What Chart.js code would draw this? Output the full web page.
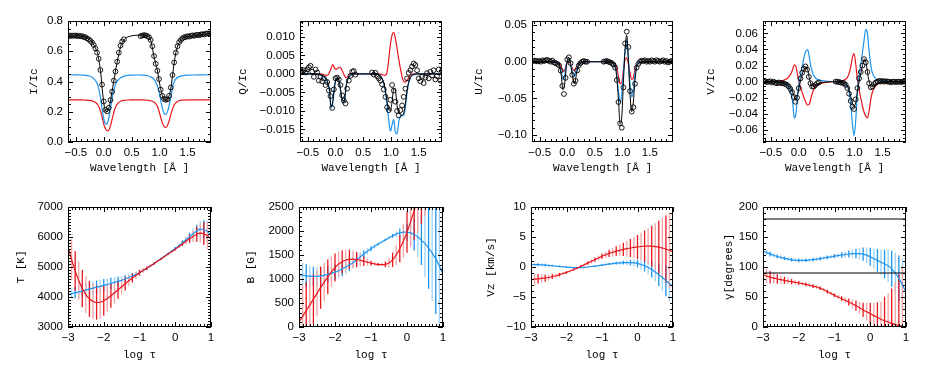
<!DOCTYPE html>
<html>
<head>
<meta charset="utf-8">
<title>Stokes profiles and inverted atmospheres</title>
<script src="https://cdn.jsdelivr.net/npm/chart.js@4.4.1/dist/chart.umd.min.js"></script>
<style>
  html, body { margin: 0; padding: 0; background: #fff; }
  #wrap { position: relative; width: 926px; height: 371px; overflow: hidden; background: #fff; }
  #wrap canvas { position: absolute; }
</style>
</head>
<body>
<div id="wrap"></div>
<script>
// ---- top row: Stokes profiles (wavelength offset in A) ----
var modelWave = [-0.64, -0.5, -0.4, -0.32, -0.26, -0.21, -0.17, -0.14, -0.11, -0.08, -0.05, -0.02, 0.01, 0.04, 0.07, 0.10,
    0.13, 0.16, 0.19, 0.22, 0.26, 0.31, 0.38, 0.48, 0.6, 0.7, 0.78, 0.84, 0.89, 0.93, 0.96, 0.99,
    1.02, 1.05, 1.08, 1.11, 1.14, 1.17, 1.20, 1.23, 1.26, 1.30, 1.35, 1.41, 1.5, 1.62, 1.78, 1.92];

var obsWave = [-0.63, -0.60, -0.57, -0.54, -0.51, -0.48, -0.45, -0.42, -0.39, -0.36, -0.33, -0.30, -0.27, -0.24, -0.21, -0.18,
    -0.15, -0.12, -0.09, -0.06, -0.03, 0.00, 0.03, 0.06, 0.09, 0.12, 0.15, 0.18, 0.21, 0.24, 0.27, 0.30, 0.33, 0.36,
    0.66, 0.69, 0.72, 0.75, 0.78, 0.81, 0.84, 0.87, 0.90, 0.93, 0.96, 0.99, 1.02, 1.05, 1.08, 1.11, 1.14, 1.17, 1.20,
    1.23, 1.26, 1.29, 1.32, 1.35, 1.38, 1.41, 1.44, 1.47, 1.50, 1.53, 1.56, 1.59, 1.62, 1.65, 1.68, 1.71, 1.74, 1.77,
    1.80, 1.83, 1.86, 1.89, 1.92];

var stokesIObs = [0.706, 0.700, 0.704, 0.702, 0.705, 0.700, 0.703, 0.699, 0.700, 0.694, 0.693, 0.685, 0.679, 0.669, 0.658, 0.642,
    0.619, 0.591, 0.550, 0.476, 0.379, 0.268, 0.213, 0.203, 0.226, 0.277, 0.333, 0.406, 0.466, 0.531, 0.591, 0.637, 0.665, 0.679,
    0.700, 0.704, 0.706, 0.705, 0.700, 0.693, 0.674, 0.633, 0.568, 0.517, 0.471, 0.416, 0.346, 0.305, 0.285, 0.279, 0.282, 0.305, 0.360,
    0.443, 0.526, 0.591, 0.633, 0.660, 0.674, 0.686, 0.693, 0.694, 0.700, 0.697, 0.702, 0.705, 0.702, 0.707, 0.709, 0.706, 0.711, 0.713,
    0.711, 0.716, 0.718, 0.716, 0.720];
var stokesIFit = [0.700, 0.702, 0.699, 0.693, 0.679, 0.660, 0.637, 0.614, 0.586, 0.526, 0.443, 0.323, 0.236, 0.203, 0.203, 0.236,
    0.296, 0.360, 0.425, 0.490, 0.563, 0.642, 0.683, 0.700, 0.706, 0.706, 0.702, 0.674, 0.582, 0.517, 0.476, 0.406,
    0.351, 0.305, 0.282, 0.277, 0.277, 0.305, 0.351, 0.434, 0.522, 0.605, 0.656, 0.688, 0.697, 0.702, 0.711, 0.718];
var stokesIBlue = [0.445, 0.444, 0.443, 0.441, 0.436, 0.428, 0.416, 0.402, 0.379, 0.337, 0.273, 0.194, 0.139, 0.118, 0.130, 0.176,
    0.245, 0.310, 0.356, 0.388, 0.411, 0.427, 0.437, 0.442, 0.443, 0.442, 0.438, 0.430, 0.418, 0.397, 0.370, 0.333,
    0.277, 0.222, 0.190, 0.182, 0.199, 0.240, 0.296, 0.360, 0.397, 0.420, 0.432, 0.439, 0.442, 0.443, 0.444, 0.445];
var stokesIRed = [0.279, 0.279, 0.278, 0.277, 0.275, 0.272, 0.266, 0.259, 0.248, 0.226, 0.194, 0.148, 0.106, 0.082, 0.074, 0.085,
    0.120, 0.166, 0.208, 0.238, 0.259, 0.271, 0.276, 0.278, 0.279, 0.278, 0.276, 0.273, 0.266, 0.254, 0.236, 0.203,
    0.162, 0.125, 0.102, 0.096, 0.109, 0.139, 0.180, 0.217, 0.245, 0.263, 0.273, 0.277, 0.279, 0.279, 0.279, 0.279];

var stokesQObs = [0.0008, 0.0006, 0.0010, 0.0004, 0.0012, 0.0018, 0.0022, 0.0006, -0.0008, 0.0012, 0.0004, -0.0018, -0.0008, -0.0020,
    -0.0012, -0.0030, -0.0022, -0.0045, -0.0060, -0.0092, -0.0042, -0.0012, -0.0010, -0.0015, -0.0030, -0.0058, -0.0072, -0.0080,
    -0.0040, -0.0018, -0.0005, 0.0006, 0.0008, -0.0002,
    0.0004, -0.0002, 0.0003, -0.0006, -0.0012, -0.0018, -0.0028, -0.0042, -0.0062, -0.0090, -0.0098, -0.0070, -0.0030, -0.0045,
    -0.0075, -0.0100, -0.0112, -0.0098, -0.0085, -0.0062, -0.0040, -0.0012, 0.0003, 0.0010, 0.0020, 0.0028, 0.0024, 0.0010,
    -0.0012, -0.0020, -0.0008, -0.0025, -0.0010, 0.0002, -0.0012, 0.0006, -0.0004, 0.0010, -0.0015, -0.0006, 0.0012, -0.0018, 0.0008];
var stokesQFit = [0, 0, 0, 0, -0.0003, -0.0007, -0.0013, -0.0022, -0.0042, -0.0088, -0.0075, -0.0040, -0.0013, -0.0010, -0.0022, -0.0050,
    -0.0072, -0.0072, -0.0035, -0.0015, -0.0005, -0.0001, 0, 0, 0, 0, -0.0002, -0.0012, -0.0035, -0.0075, -0.0095, -0.0100,
    -0.0075, -0.0040, -0.0045, -0.0085, -0.0105, -0.0110, -0.0112, -0.0105, -0.0080, -0.0035, -0.0010, -0.0002, 0, 0, 0, 0];
var stokesQBlue = [0, 0, 0, -0.0001, -0.0004, -0.0008, -0.0015, -0.0025, -0.0045, -0.0092, -0.0080, -0.0035, -0.0015, -0.0012, -0.0025, -0.0055,
    -0.0078, -0.0072, -0.0035, -0.0015, -0.0005, -0.0001, 0, 0, 0, 0, -0.0002, -0.0012, -0.0040, -0.0085, -0.0125, -0.0155,
    -0.0138, -0.0123, -0.0158, -0.0162, -0.0130, -0.0115, -0.0113, -0.0112, -0.0090, -0.0040, -0.0010, -0.0002, 0, 0, 0, 0];
var stokesQRed = [0, 0, 0, 0, 0, -0.0002, -0.0004, -0.0003, 0.0004, 0.0015, 0.0025, 0.0017, 0.0012, 0.0015, 0.0018, 0.0015,
    0.0006, -0.0004, -0.0010, -0.0008, -0.0002, 0, 0, 0, 0, 0, 0, -0.0002, -0.0004, 0.0005, 0.0040, 0.0080,
    0.0105, 0.0112, 0.0095, 0.0070, 0.0040, 0.0015, -0.0008, -0.0020, -0.0022, -0.0015, -0.0003, 0, 0, 0, 0, 0];

var stokesUObs = [0.001, 0.0015, 0.001, 0.0005, 0.001, 0.0, 0.002, 0.001, 0.002, 0.0025, 0.001, 0.0, 0.0015, -0.001, -0.002, -0.003,
    -0.005, -0.012, -0.033, -0.044, -0.022, 0.003, 0.006, -0.002, -0.018, -0.030, -0.026, -0.012, -0.005, -0.002, 0.0, 0.001, 0.0, 0.0,
    0.0, 0.0005, 0.001, 0.0, -0.001, -0.002, -0.004, -0.008, -0.025, -0.055, -0.084, -0.090, -0.035, 0.025, 0.041, 0.020, -0.040,
    -0.068, -0.062, -0.030, -0.008, -0.003, 0.0, 0.0015, 0.001, 0.002, 0.0, 0.001, 0.0, 0.002, 0.001, 0.0, 0.002, 0.001, 0.0, 0.001,
    0.002, 0.0, 0.001, -0.001, 0.0, 0.001, 0.0];
var stokesUFit = [0, 0, 0, 0, -0.0005, -0.001, -0.003, -0.007, -0.018, -0.038, -0.032, -0.010, 0.004, 0.005, -0.008, -0.022,
    -0.030, -0.020, -0.009, -0.004, -0.001, 0, 0, 0, 0, 0, -0.0005, -0.003, -0.015, -0.052, -0.085, -0.075,
    -0.028, 0.018, 0.036, 0.002, -0.045, -0.068, -0.055, -0.025, -0.008, -0.002, -0.0005, 0, 0, 0, 0, 0];
var stokesUBlue = [0, 0, 0, 0, 0, -0.0005, -0.002, -0.005, -0.012, -0.024, -0.020, -0.005, 0.002, 0.002, -0.006, -0.015,
    -0.020, -0.014, -0.006, -0.002, -0.0005, 0, 0, 0, 0, 0, -0.0003, -0.002, -0.012, -0.040, -0.055, -0.045,
    -0.015, 0.015, 0.030, 0.003, -0.030, -0.048, -0.040, -0.016, -0.005, -0.001, 0, 0, 0, 0, 0, 0];
var stokesURed = [0, 0, 0, 0, 0, 0, -0.001, -0.003, -0.007, -0.013, -0.012, -0.004, 0, -0.001, -0.005, -0.010,
    -0.012, -0.008, -0.004, -0.001, 0, 0, 0, 0, 0, 0, 0, -0.001, -0.006, -0.020, -0.030, -0.028,
    -0.012, 0.003, 0.005, -0.003, -0.015, -0.024, -0.022, -0.010, -0.004, -0.001, 0, 0, 0, 0, 0, 0];

var stokesVObs = [0.0, 0.0005, -0.0005, 0.0, 0.0005, -0.001, 0.0, -0.0015, -0.002, -0.001, -0.0015, -0.002, -0.002, -0.003, -0.004, -0.006,
    -0.009, -0.013, -0.019, -0.025, -0.020, -0.008, 0.004, 0.011, 0.016, 0.019, 0.015, 0.006, -0.002, -0.006, -0.006, -0.004, -0.002, -0.001,
    0.0, 0.0, -0.0005, -0.001, -0.0015, -0.002, -0.004, -0.008, -0.015, -0.024, -0.031, -0.034, -0.022, -0.008, 0.004, 0.012, 0.020,
    0.028, 0.024, 0.012, -0.002, -0.007, -0.006, -0.003, -0.001, 0.0, 0.001, 0.0, 0.001, 0.0, 0.0005, 0.0, 0.0, -0.001, 0.0, 0.0,
    -0.0005, 0.0, 0.0, -0.0005, 0.0, 0.0, 0.0015];
var stokesVFit = [0, 0, -0.0003, -0.001, -0.002, -0.003, -0.005, -0.008, -0.013, -0.019, -0.023, -0.016, -0.006, 0.004, 0.011, 0.016,
    0.0185, 0.015, 0.004, -0.003, -0.006, -0.004, -0.0015, -0.0005, 0, -0.0003, -0.001, -0.003, -0.008, -0.018, -0.027, -0.031,
    -0.026, -0.012, 0, 0.010, 0.020, 0.028, 0.025, 0.012, 0, -0.006, -0.004, -0.002, -0.0005, 0, 0, 0];
var stokesVBlue = [0, 0, -0.0003, -0.001, -0.002, -0.004, -0.008, -0.014, -0.025, -0.045, -0.040, -0.015, 0, 0.012, 0.022, 0.032,
    0.038, 0.040, 0.030, 0.018, 0.009, 0.004, 0.002, 0.0008, 0, -0.0005, -0.001, -0.003, -0.010, -0.028, -0.052, -0.067,
    -0.048, -0.012, 0.008, 0.022, 0.036, 0.052, 0.065, 0.060, 0.038, 0.016, 0.006, 0.002, 0.001, 0, 0, 0];
var stokesVRed = [0, 0, 0.0003, 0.001, 0.002, 0.004, 0.007, 0.010, 0.015, 0.021, 0.019, 0.008, -0.002, -0.009, -0.015, -0.021,
    -0.026, -0.029, -0.028, -0.020, -0.011, -0.005, -0.0025, -0.001, 0, 0.0005, 0.001, 0.003, 0.008, 0.018, 0.030, 0.035,
    0.022, 0.003, -0.010, -0.020, -0.030, -0.038, -0.043, -0.045, -0.036, -0.018, -0.008, -0.003, -0.001, 0, 0, 0];

// ---- bottom row: stratifications in log tau ----
var logTau = [-3.0, -2.9, -2.8, -2.7, -2.6, -2.5, -2.4, -2.3, -2.2, -2.1, -2.0, -1.9, -1.8, -1.7, -1.6, -1.5, -1.4, -1.3, -1.2, -1.1,
    -1.0, -0.9, -0.8, -0.7, -0.6, -0.5, -0.4, -0.3, -0.2, -0.1, 0.0, 0.1, 0.2, 0.3, 0.4, 0.5, 0.6, 0.7, 0.8, 0.9, 1.0];

var tempRed = [5690, 5250, 4870, 4550, 4280, 4080, 3940, 3850, 3815, 3825, 3875, 3950, 4040, 4140, 4240, 4340, 4440, 4540, 4630, 4720,
    4810, 4885, 4960, 5035, 5110, 5190, 5270, 5350, 5430, 5510, 5590, 5680, 5770, 5860, 5940, 6020, 6090, 6130, 6110, 6040, 5940];
var tempRedErr = [700, 680, 660, 640, 620, 610, 600, 590, 570, 540, 500, 450, 400, 350, 300, 260, 220, 180, 150, 120,
    100, 80, 60, 50, 40, 35, 30, 30, 30, 35, 40, 50, 70, 100, 140, 190, 250, 310, 380, 450, 520];
var tempBlue = [4080, 4110, 4140, 4170, 4200, 4235, 4265, 4295, 4325, 4355, 4390, 4420, 4455, 4490, 4520, 4555, 4600, 4650, 4700, 4755,
    4810, 4880, 4955, 5030, 5110, 5190, 5275, 5360, 5445, 5530, 5615, 5710, 5810, 5910, 6010, 6110, 6200, 6260, 6250, 6180, 6060];
var tempBlueErr = [120, 160, 190, 210, 220, 230, 230, 230, 225, 220, 210, 200, 190, 175, 160, 145, 130, 115, 100, 85,
    70, 55, 45, 40, 35, 30, 30, 30, 35, 40, 50, 60, 80, 100, 130, 170, 210, 260, 310, 360, 420];

var fieldRed = [100, 220, 340, 460, 580, 700, 820, 935, 1045, 1150, 1240, 1310, 1360, 1395, 1410, 1412, 1405, 1390, 1370, 1350,
    1330, 1315, 1302, 1298, 1305, 1335, 1400, 1500, 1630, 1790, 1975, 2190, 2430, 2690, 2960, 3240, 3520, 3800, 4080, 4360, 4640];
var fieldRedErr = [700, 650, 600, 560, 520, 480, 440, 400, 360, 320, 290, 260, 240, 220, 200, 180, 160, 130, 100, 70,
    50, 35, 30, 35, 60, 100, 150, 210, 280, 350, 430, 520, 620, 720, 820, 920, 1020, 1120, 1220, 1320, 1420];
var fieldBlue = [1090, 1078, 1066, 1058, 1055, 1057, 1064, 1077, 1095, 1117, 1142, 1172, 1207, 1248, 1293, 1340, 1400, 1460, 1520, 1577,
    1630, 1680, 1727, 1772, 1815, 1860, 1900, 1935, 1960, 1977, 1978, 1960, 1925, 1875, 1810, 1735, 1645, 1540, 1420, 1270, 1090];
var fieldBlueErr = [280, 260, 240, 220, 200, 190, 180, 175, 170, 165, 160, 155, 150, 140, 130, 120, 110, 95, 80, 65,
    50, 40, 30, 25, 25, 30, 40, 60, 90, 130, 180, 250, 330, 420, 520, 700, 850, 1000, 1150, 1300, 1450];

var vzRed = [-2.08, -2.03, -1.98, -1.89, -1.84, -1.75, -1.6, -1.46, -1.27, -1.09, -0.9, -0.66, -0.42, -0.19, 0.09, 0.38, 0.66, 0.94, 1.23, 1.51,
    1.79, 2.03, 2.27, 2.45, 2.64, 2.78, 2.93, 3.07, 3.16, 3.26, 3.35, 3.42, 3.47, 3.49, 3.47, 3.4, 3.3, 3.16, 2.97, 2.78, 2.55];
var vzRedErr = [1.0, 0.9, 0.8, 0.7, 0.6, 0.5, 0.42, 0.35, 0.3, 0.25, 0.22, 0.2, 0.2, 0.2, 0.22, 0.25, 0.28, 0.32, 0.36, 0.4,
    0.45, 0.52, 0.6, 0.7, 0.82, 0.95, 1.1, 1.3, 1.5, 1.75, 2.0, 2.3, 2.6, 3.0, 3.4, 3.9, 4.4, 5.0, 5.6, 6.3, 7.0];
var vzBlue = [0.42, 0.4, 0.38, 0.35, 0.31, 0.26, 0.21, 0.15, 0.09, 0.04, -0.02, -0.07, -0.09, -0.1, -0.09, -0.06, 0.0, 0.08, 0.15, 0.24,
    0.32, 0.41, 0.49, 0.57, 0.63, 0.68, 0.72, 0.74, 0.73, 0.68, 0.59, 0.42, 0.21, -0.08, -0.42, -0.83, -1.27, -1.75, -2.27, -2.8, -3.3];
var vzBlueErr = [0.3, 0.28, 0.26, 0.24, 0.22, 0.2, 0.18, 0.16, 0.14, 0.12, 0.1, 0.1, 0.1, 0.1, 0.1, 0.1, 0.1, 0.1, 0.11, 0.12,
    0.13, 0.15, 0.17, 0.2, 0.23, 0.27, 0.32, 0.38, 0.45, 0.55, 0.65, 0.8, 0.95, 1.15, 1.35, 1.6, 1.9, 2.2, 2.6, 3.0, 3.5];

var gammaRed = [87, 85, 83, 81.5, 80, 79, 77.8, 76.6, 75.5, 74.4, 73.3, 72.2, 71, 69.6, 68.2, 66.7, 64.5, 62, 59, 56,
    52.8, 50, 47.2, 44.5, 41.7, 38.9, 35.5, 32, 28.5, 25.3, 22.2, 19, 16, 13, 10.5, 8.3, 6, 4, 2.3, 1, 0.3];
var gammaRedErr = [13, 12, 10.5, 9, 8, 7, 6, 5, 4.5, 4, 3.5, 3, 3, 3, 3, 3, 3, 3, 3, 3,
    3, 3.5, 4, 5, 6, 7, 8.5, 10, 12, 15, 18, 21, 25, 29, 40, 48, 58, 70, 85, 100, 120];
var gammaBlue = [127, 124, 121.5, 119.5, 117.5, 116, 114.5, 113, 112, 111.3, 111, 111, 111.2, 111.7, 112.3, 113, 114, 115, 116, 117,
    118, 119, 120, 121, 121.7, 122.2, 122.4, 122.3, 121.5, 119.8, 117, 114, 111, 108, 105, 102, 97, 90, 81, 70, 58];
var gammaBlueErr = [4, 4, 4, 3.5, 3.5, 3, 3, 3, 3, 3, 3, 3, 3, 3, 3, 3, 3, 3, 3, 3,
    3.5, 4, 4.5, 5, 6, 7, 8, 9.5, 11, 13, 15, 17, 19, 21, 24, 27, 30, 34, 38, 43, 48];
var gammaRefLevels = [90, 180];

// ---- tick labels ----
var waveTicks = [-0.5, 0, 0.5, 1, 1.5];
var tauTicks = [-3, -2, -1, 0, 1];
var iTicks = [0, 0.2, 0.4, 0.6, 0.8];
var qTicks = [-0.015, -0.010, -0.005, 0, 0.005, 0.010];
var uTicks = [-0.10, -0.05, 0, 0.05];
var vTicks = [-0.06, -0.04, -0.02, 0, 0.02, 0.04, 0.06];
var tTicks = [3000, 4000, 5000, 6000, 7000];
var bTicks = [0, 500, 1000, 1500, 2000, 2500];
var vzTicks = [-10, -5, 0, 5, 10];
var gammaTicks = [0, 50, 100, 150, 200];

(function() {
    'use strict';

    var BLACK = '#000000';
    var BLUE = '#1e94ee';
    var BLUE_PALE = '#9dd2f6';
    var RED = '#e8161c';
    var RED_PALE = '#f4a2a2';

    var MARGIN_L = 68, MARGIN_T = 12, MARGIN_R = 10, MARGIN_B = 45;
    var TITLE_FONT = { family: "'Liberation Mono', 'Courier New', monospace", size: 11 };

    Chart.defaults.font.family = "'Liberation Sans', Arial, sans-serif";
    Chart.defaults.font.size = 11.5;
    Chart.defaults.color = '#000';

    function fmtTick(v, dec) {
        var s = Math.abs(v) < 1e-12 ? (0).toFixed(dec) : v.toFixed(dec);
        return s.replace('-', '\u2212');
    }

    function pairs(xs, ys) {
        return xs.map(function(x, i) { return { x: x, y: ys[i] }; });
    }

    function pointSet(xs, ys) {
        return {
            data: pairs(xs, ys),
            showLine: false,
            pointRadius: 2.4,
            pointBorderWidth: 0.9,
            pointBorderColor: BLACK,
            pointBackgroundColor: 'rgba(0,0,0,0)'
        };
    }

    function lineSet(xs, ys, color, width) {
        return {
            data: pairs(xs, ys),
            borderColor: color,
            borderWidth: width,
            pointRadius: 0,
            fill: false,
            cubicInterpolationMode: 'monotone',
            clip: 0
        };
    }

    // vertical error bars drawn as thin floating bars
    function barSet(vals, errs, dark, pale) {
        return {
            type: 'bar',
            data: logTau.map(function(t, i) { return { x: t, y: [vals[i] - errs[i], vals[i] + errs[i]] }; }),
            backgroundColor: logTau.map(function(t, i) { return i % 2 === 0 ? dark : pale; }),
            borderWidth: 0,
            barThickness: 1.3,
            inflateAmount: 0,
            grouped: false,
            clip: 0
        };
    }

    function profileSets(obs, fit, blue, red) {
        return [
            pointSet(obsWave, obs),
            lineSet(modelWave, fit, BLACK, 1),
            lineSet(modelWave, blue, BLUE, 1.2),
            lineSet(modelWave, red, RED, 1.2)
        ];
    }

    function stratSets(redVals, redErr, blueVals, blueErr) {
        return [
            lineSet(logTau, redVals, RED, 1.2),
            lineSet(logTau, blueVals, BLUE, 1.2),
            barSet(redVals, redErr, RED, RED_PALE),
            barSet(blueVals, blueErr, BLUE, BLUE_PALE)
        ];
    }

    var refSets = gammaRefLevels.map(function(level) {
        return lineSet([-3, 1], [level, level], BLACK, 1);
    });

    // box frame with inward major/minor ticks on all four sides, IDL style
    var idlFrame = {
        id: 'idlFrame',
        afterDraw: function(chart, args, opts) {
            var ctx = chart.ctx;
            var a = chart.chartArea;
            var xs = chart.scales.x, ys = chart.scales.y;
            ctx.save();
            ctx.strokeStyle = BLACK;
            ctx.lineWidth = 1;
            ctx.beginPath();
            eachTick(xs, opts.xMinor, function(p, len) {
                var x = Math.round(p) + 0.5;
                ctx.moveTo(x, a.bottom); ctx.lineTo(x, a.bottom - len);
                ctx.moveTo(x, a.top); ctx.lineTo(x, a.top + len);
            });
            eachTick(ys, opts.yMinor, function(p, len) {
                var y = Math.round(p) + 0.5;
                ctx.moveTo(a.left, y); ctx.lineTo(a.left + len, y);
                ctx.moveTo(a.right, y); ctx.lineTo(a.right - len, y);
            });
            ctx.stroke();
            ctx.strokeRect(a.left + 0.5, a.top + 0.5, a.right - a.left - 1, a.bottom - a.top - 1);
            ctx.restore();
        }
    };

    function eachTick(scale, nMinor, draw) {
        var t = scale.ticks;
        if (t.length < 2) return;
        var m0 = t[0].value;
        var step = (t[1].value - m0) / nMinor;
        var kLo = Math.ceil((scale.min - m0) / step - 1e-6);
        var kHi = Math.floor((scale.max - m0) / step + 1e-6);
        for (var k = kLo; k <= kHi; k++) {
            var isMajor = ((k % nMinor) + nMinor) % nMinor === 0;
            draw(scale.getPixelForValue(m0 + k * step), isMajor ? 5 : 3);
        }
    }

    var wrap = document.getElementById('wrap');

    function buildPanel(p) {
        var canvas = document.createElement('canvas');
        var w = p.box[2] + MARGIN_L + MARGIN_R;
        var h = p.box[3] + MARGIN_T + MARGIN_B;
        canvas.width = w;
        canvas.height = h;
        canvas.style.left = (p.box[0] - MARGIN_L) + 'px';
        canvas.style.top = (p.box[1] - MARGIN_T) + 'px';
        canvas.style.width = w + 'px';
        canvas.style.height = h + 'px';
        wrap.appendChild(canvas);

        var isWave = p.row === 'top';
        var xTicks = isWave ? waveTicks : tauTicks;

        new Chart(canvas.getContext('2d'), {
            type: 'line',
            data: { datasets: p.sets },
            options: {
                responsive: false,
                animation: false,
                devicePixelRatio: 1,
                events: [],
                layout: { padding: { left: 0, top: MARGIN_T, right: MARGIN_R, bottom: 0 } },
                plugins: {
                    legend: { display: false },
                    tooltip: { enabled: false },
                    idlFrame: { xMinor: isWave ? 5 : 10, yMinor: p.yMinor }
                },
                scales: {
                    x: {
                        type: 'linear',
                        min: isWave ? -0.64 : -3,
                        max: isWave ? 1.92 : 1,
                        offset: false,
                        grid: { display: false, drawTicks: false },
                        border: { display: false },
                        afterBuildTicks: function(s) {
                            s.ticks = xTicks.map(function(v) { return { value: v }; });
                        },
                        afterFit: function(s) { s.height = MARGIN_B; },
                        ticks: {
                            autoSkip: false,
                            maxRotation: 0,
                            padding: 4,
                            callback: function(v) { return fmtTick(v, isWave ? 1 : 0); }
                        },
                        title: {
                            display: true,
                            text: isWave ? 'Wavelength [\u00c5 ]' : 'log \u03c4',
                            font: TITLE_FONT,
                            padding: { top: 0, bottom: isWave ? 12.4 : 10.4 }
                        }
                    },
                    y: {
                        type: 'linear',
                        min: p.yMin,
                        max: p.yMax,
                        grid: { display: false, drawTicks: false },
                        border: { display: false },
                        afterBuildTicks: function(s) {
                            s.ticks = p.yTicks.map(function(v) { return { value: v }; });
                        },
                        afterFit: function(s) { s.width = MARGIN_L; },
                        ticks: {
                            autoSkip: false,
                            padding: 5,
                            callback: function(v) { return fmtTick(v, p.yDec); }
                        },
                        title: {
                            display: true,
                            text: p.yTitle,
                            font: TITLE_FONT,
                            padding: { top: MARGIN_L - p.titleGap - 6.6, bottom: 0 }
                        }
                    }
                }
            },
            plugins: [idlFrame]
        });
    }

    var panels = [
        { row: 'top', box: [68, 21, 143, 121], titleGap: 34, yTitle: 'I/Ic', yMin: 0, yMax: 0.8,
          yTicks: iTicks, yDec: 1, yMinor: 4, sets: profileSets(stokesIObs, stokesIFit, stokesIBlue, stokesIRed) },
        { row: 'top', box: [300, 21, 142, 121], titleGap: 57, yTitle: 'Q/Ic', yMin: -0.0184, yMax: 0.0143,
          yTicks: qTicks, yDec: 3, yMinor: 5, sets: profileSets(stokesQObs, stokesQFit, stokesQBlue, stokesQRed) },
        { row: 'top', box: [532, 21, 141, 121], titleGap: 53, yTitle: 'U/Ic', yMin: -0.1094, yMax: 0.0555,
          yTicks: uTicks, yDec: 2, yMinor: 5, sets: profileSets(stokesUObs, stokesUFit, stokesUBlue, stokesURed) },
        { row: 'top', box: [763, 21, 143, 121], titleGap: 52, yTitle: 'V/Ic', yMin: -0.075, yMax: 0.0754,
          yTicks: vTicks, yDec: 2, yMinor: 4, sets: profileSets(stokesVObs, stokesVFit, stokesVBlue, stokesVRed) },
        { row: 'bottom', box: [68, 207, 143, 120], titleGap: 47, yTitle: 'T [K]', yMin: 3000, yMax: 7000,
          yTicks: tTicks, yDec: 0, yMinor: 10, sets: stratSets(tempRed, tempRedErr, tempBlue, tempBlueErr) },
        { row: 'bottom', box: [299, 207, 144, 120], titleGap: 48, yTitle: 'B [G]', yMin: 0, yMax: 2500,
          yTicks: bTicks, yDec: 0, yMinor: 5, sets: stratSets(fieldRed, fieldRedErr, fieldBlue, fieldBlueErr) },
        { row: 'bottom', box: [531, 207, 142, 120], titleGap: 40, yTitle: 'Vz [km/s]', yMin: -10, yMax: 10,
          yTicks: vzTicks, yDec: 0, yMinor: 5, sets: stratSets(vzRed, vzRedErr, vzBlue, vzBlueErr) },
        { row: 'bottom', box: [763, 207, 143, 120], titleGap: 34, yTitle: '\u03b3[degrees]', yMin: 0, yMax: 200,
          yTicks: gammaTicks, yDec: 0, yMinor: 5, sets: refSets.concat(stratSets(gammaRed, gammaRedErr, gammaBlue, gammaBlueErr)) }
    ];

    panels.forEach(buildPanel);
})();
</script>
</body>
</html>
